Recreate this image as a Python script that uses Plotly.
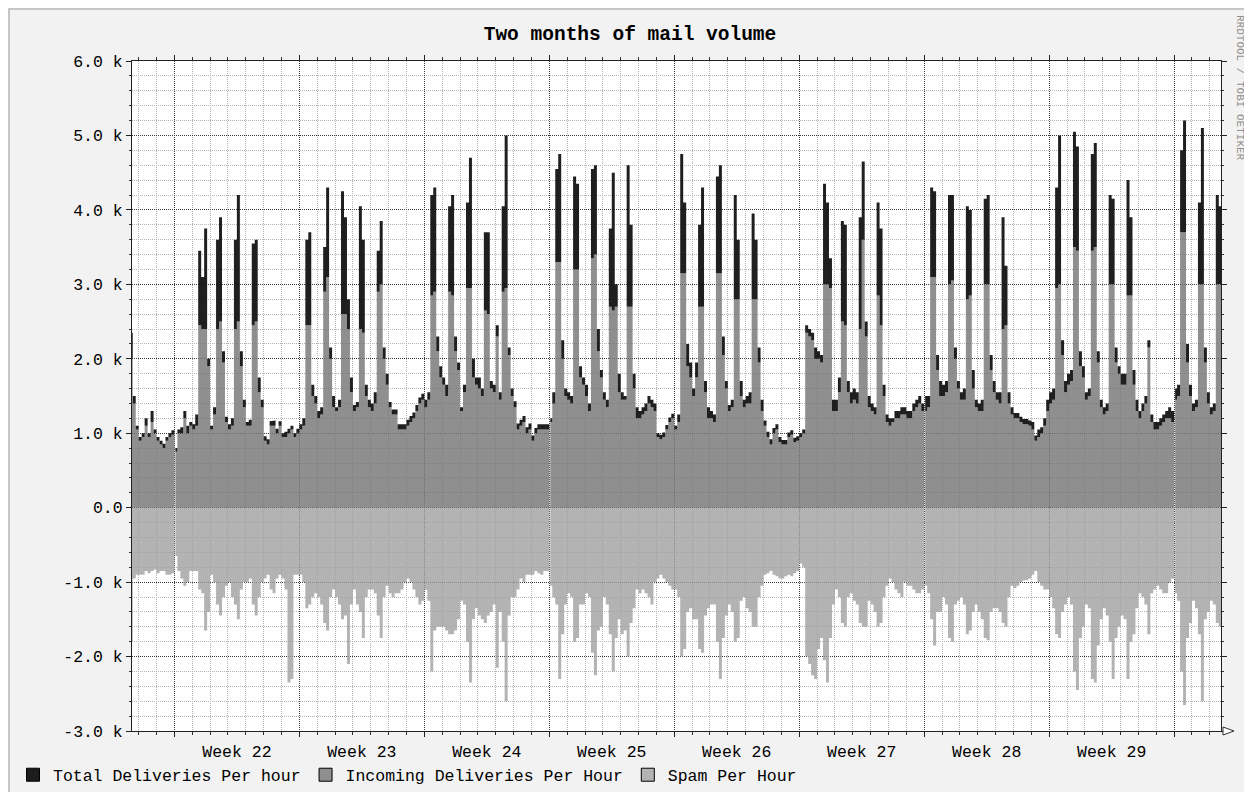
import pandas as pd
import plotly.graph_objects as go

# ---------------- chart text ----------------
title_text = "Two months of mail volume"
series_names = ["Total Deliveries Per hour", "Incoming Deliveries Per Hour", "Spam Per Hour"]
credit_text = "RRDTOOL / TOBI OETIKER"
y_tick_values = [6, 5, 4, 3, 2, 1, 0, -1, -2, -3]
y_tick_labels = ["6.0 k", "5.0 k", "4.0 k", "3.0 k", "2.0 k", "1.0 k", "0.0",
                 "-1.0 k", "-2.0 k", "-3.0 k"]
week_label_format = "Week %W"

# ---------------- time frame ----------------
sample_start = "2004-05-28 12:00"      # first 4-hour sample
sample_hours = 4
view_start = "2004-05-28 15:00"
view_end = "2004-07-28 15:00"
first_week_start = "2004-05-31"
gap_starts = ["2004-05-31 00:00", "2004-06-21 00:00", "2004-07-12 00:00", "2004-07-26 00:00"]
gap_minutes = 80

# ---------------- data (thousands per hour, 4-hour samples) ----------------
# one row per day: 00-04, 04-08, 08-12, 12-16, 16-20, 20-24
incoming_k = [
    2.0, 1.4, 1.05,                         # Fri May 28 (12h-24h)
    0.9, 0.95, 1.1, 0.95, 1.15, 1.0,        # Sat May 29
    0.9, 0.85, 0.8, 0.9, 0.95, 0.98,        # Sun May 30
    0.75, 1.0, 1.0, 1.2, 1.0, 1.1,          # Mon May 31
    1.05, 1.1, 2.45, 2.4, 2.4, 1.9,         # Tue Jun 1
    1.05, 1.25, 2.4, 2.5, 1.95, 1.15,       # Wed
    1.05, 1.1, 2.4, 2.5, 1.9, 1.35,         # Thu
    1.1, 1.1, 2.45, 2.5, 1.55, 1.35,        # Fri
    0.9, 0.85, 1.1, 1.1, 1.0, 1.1,          # Sat
    0.95, 0.95, 1.0, 1.05, 0.95, 1.0,       # Sun Jun 6
    1.05, 1.1, 2.45, 2.45, 1.5, 1.4,        # Mon Jun 7
    1.2, 1.25, 2.9, 3.1, 2.0, 1.35,         # Tue
    1.3, 1.35, 2.6, 2.6, 2.4, 1.55,         # Wed
    1.3, 1.35, 2.4, 2.35, 1.5, 1.35,        # Thu
    1.3, 1.4, 2.9, 3.0, 2.0, 1.65,          # Fri
    1.35, 1.25, 1.25, 1.05, 1.05, 1.05,     # Sat
    1.1, 1.15, 1.2, 1.3, 1.4, 1.45,         # Sun Jun 13
    1.35, 1.45, 2.85, 2.9, 2.1, 1.75,       # Mon Jun 14
    1.65, 1.5, 2.9, 2.85, 2.1, 1.85,        # Tue
    1.3, 1.55, 2.95, 2.95, 1.75, 1.65,      # Wed
    1.6, 1.5, 2.65, 2.6, 1.6, 1.55,         # Thu
    2.3, 1.45, 2.9, 2.95, 2.05, 1.5,        # Fri
    1.35, 1.05, 1.1, 1.15, 1.0, 1.05,       # Sat
    0.9, 1.0, 1.05, 1.05, 1.05, 1.05,       # Sun Jun 20
    1.15, 1.4, 3.3, 3.3, 2.0, 1.5,          # Mon Jun 21
    1.45, 1.4, 3.2, 3.2, 1.75, 1.65,        # Tue
    1.5, 1.3, 3.35, 3.4, 2.1, 1.75,         # Wed
    1.45, 1.35, 2.7, 2.65, 2.7, 1.55,       # Thu
    1.45, 1.45, 2.7, 2.7, 1.6, 1.2,         # Fri
    1.2, 1.25, 1.3, 1.4, 1.35, 1.3,         # Sat
    0.95, 0.92, 0.95, 1.05, 1.15, 1.2,      # Sun Jun 27
    1.05, 1.15, 3.15, 3.15, 1.9, 1.75,      # Mon Jun 28
    1.5, 1.75, 2.7, 2.7, 1.55, 1.2,         # Tue
    1.2, 1.15, 3.15, 3.15, 2.05, 1.6,       # Wed
    1.3, 1.35, 2.8, 2.8, 1.5, 1.35,         # Thu
    1.4, 1.4, 2.8, 2.8, 1.95, 1.3,          # Fri
    1.1, 0.95, 0.85, 1.0, 1.05, 0.88,       # Sat
    0.85, 0.85, 0.95, 0.98, 0.88, 0.9,      # Sun Jul 4
    0.95, 1.0, 2.35, 2.3, 2.25, 2.0,        # Mon Jul 5
    2.0, 1.95, 3.0, 3.0, 2.95, 1.3,         # Tue
    1.3, 1.55, 2.5, 2.45, 1.55, 1.4,        # Wed
    1.45, 1.4, 2.4, 3.6, 2.3, 1.35,         # Thu
    1.3, 1.25, 2.85, 2.45, 1.5, 1.15,       # Fri
    1.1, 1.15, 1.2, 1.2, 1.25, 1.25,        # Sat
    1.2, 1.2, 1.3, 1.35, 1.4, 1.3,          # Sun Jul 11
    1.3, 1.35, 3.1, 3.1, 1.85, 1.5,         # Mon Jul 12
    1.5, 1.55, 3.0, 3.05, 2.0, 1.6,         # Tue
    1.45, 1.45, 2.8, 2.85, 1.6, 1.35,       # Wed
    1.3, 1.3, 3.0, 3.0, 1.85, 1.55,         # Thu
    1.45, 1.4, 2.4, 2.45, 1.4, 1.25,        # Fri
    1.2, 1.2, 1.15, 1.12, 1.12, 1.1,        # Sat
    1.05, 0.9, 0.95, 1.0, 1.1, 1.3,         # Sun Jul 18
    1.4, 1.45, 2.95, 3.0, 2.05, 1.55,       # Mon Jul 19
    1.65, 1.7, 3.5, 3.45, 1.9, 1.75,        # Tue
    1.45, 1.5, 3.45, 3.5, 1.95, 1.35,       # Wed
    1.25, 1.3, 3.0, 3.0, 1.95, 1.8,         # Thu
    1.65, 1.65, 2.85, 2.85, 1.65, 1.3,      # Fri
    1.2, 1.3, 1.4, 2.15, 1.15, 1.05,        # Sat
    1.05, 1.1, 1.15, 1.2, 1.2, 1.15,        # Sun Jul 25
    1.45, 1.5, 3.7, 3.7, 1.95, 1.5,         # Mon Jul 26
    1.3, 1.35, 3.0, 3.0, 1.95, 1.4,         # Tue
    1.25, 1.3, 3.0, 3.0,                    # Wed Jul 28 (0h-16h)
]

total_k = [
    2.35, 1.5, 1.1,
    0.95, 1.0, 1.2, 1.0, 1.3, 1.05,
    0.95, 0.9, 0.86, 0.95, 1.0, 1.04,
    0.8, 1.05, 1.08, 1.3, 1.1, 1.15,
    1.12, 1.25, 3.45, 3.1, 3.75, 2.0,
    1.1, 1.35, 3.6, 3.9, 2.1, 1.22,
    1.12, 1.2, 3.6, 4.2, 2.1, 1.45,
    1.15, 1.18, 3.55, 3.6, 1.75, 1.45,
    0.96, 0.92, 1.16, 1.17, 1.06, 1.16,
    1.0, 1.02, 1.06, 1.1, 1.0, 1.06,
    1.12, 1.2, 3.6, 3.7, 1.65, 1.5,
    1.3, 1.35, 3.5, 4.3, 2.15, 1.5,
    1.35, 1.45, 4.25, 3.9, 2.8, 1.75,
    1.38, 1.42, 4.05, 3.6, 1.65, 1.45,
    1.4, 1.55, 3.45, 3.85, 2.15, 1.8,
    1.42, 1.32, 1.32, 1.12, 1.12, 1.12,
    1.18, 1.23, 1.28, 1.38, 1.48, 1.53,
    1.45, 1.55, 4.2, 4.3, 2.3, 1.9,
    1.75, 1.65, 4.05, 4.2, 2.3, 1.95,
    1.35, 1.65, 4.1, 4.7, 2.0, 1.75,
    1.75, 1.6, 3.7, 3.7, 1.7, 1.65,
    2.45, 1.55, 4.05, 5.0, 2.15, 1.6,
    1.43, 1.13, 1.18, 1.23, 1.08, 1.13,
    0.97, 1.07, 1.12, 1.12, 1.12, 1.12,
    1.2, 1.55, 4.55, 4.75, 2.25, 1.6,
    1.55, 1.5, 4.45, 4.35, 1.9, 1.75,
    1.65, 1.4, 4.55, 4.6, 2.4, 1.85,
    1.55, 1.45, 3.75, 4.5, 3.0, 1.8,
    1.55, 1.5, 4.6, 3.8, 1.8, 1.35,
    1.3, 1.35, 1.4, 1.5, 1.45, 1.4,
    1.0, 0.98, 1.01, 1.11, 1.21, 1.26,
    1.1, 1.25, 4.75, 4.1, 2.2, 1.95,
    1.6, 1.95, 3.8, 4.3, 1.7, 1.35,
    1.3, 1.25, 4.45, 4.6, 2.3, 1.7,
    1.38, 1.45, 4.2, 3.6, 1.7, 1.45,
    1.5, 1.55, 3.95, 3.6, 2.15, 1.45,
    1.17, 1.02, 0.92, 1.07, 1.12, 0.95,
    0.91, 0.91, 1.01, 1.04, 0.94, 0.96,
    1.0, 1.05, 2.45, 2.4, 2.35, 2.15,
    2.1, 2.05, 4.35, 4.1, 3.35, 1.45,
    1.45, 1.75, 3.85, 3.8, 1.7, 1.55,
    1.6, 1.55, 3.9, 4.65, 2.5, 1.5,
    1.4, 1.35, 4.1, 3.75, 1.65, 1.25,
    1.2, 1.2, 1.3, 1.3, 1.35, 1.35,
    1.3, 1.3, 1.4, 1.45, 1.5, 1.4,
    1.5, 1.5, 4.3, 4.25, 2.05, 1.7,
    1.65, 1.7, 4.2, 4.2, 2.15, 1.7,
    1.55, 1.6, 4.05, 4.0, 1.85, 1.45,
    1.4, 1.45, 4.15, 4.2, 2.05, 1.7,
    1.55, 1.55, 3.9, 3.25, 1.55, 1.35,
    1.27, 1.27, 1.22, 1.19, 1.19, 1.17,
    1.15, 0.97, 1.05, 1.08, 1.2, 1.45,
    1.55, 1.6, 4.3, 5.0, 2.25, 1.7,
    1.8, 1.85, 5.05, 4.85, 2.1, 1.9,
    1.55, 1.6, 4.75, 4.9, 2.1, 1.45,
    1.35, 1.4, 4.2, 4.15, 2.15, 1.9,
    1.8, 1.8, 4.4, 3.9, 1.85, 1.45,
    1.3, 1.4, 1.5, 2.25, 1.25, 1.15,
    1.15, 1.2, 1.25, 1.3, 1.35, 1.3,
    1.6, 1.65, 4.8, 5.2, 2.2, 1.65,
    1.4, 1.45, 4.1, 5.1, 2.15, 1.55,
    1.35, 1.4, 4.2, 4.05,
]

spam_k = [
    1.8, 0.95, 0.9,
    0.9, 0.9, 0.85, 0.88, 0.85, 0.83,
    0.88, 0.85, 0.85, 0.9, 0.9, 0.88,
    0.65, 0.85, 0.95, 1.05, 1.0, 0.85,
    0.85, 0.85, 1.1, 1.15, 1.65, 1.4,
    0.9, 1.0, 1.3, 1.45, 1.2, 1.05,
    1.0, 1.2, 1.3, 1.5, 1.1, 1.0,
    1.0, 0.95, 1.3, 1.45, 1.2, 1.0,
    0.95, 0.9, 1.1, 1.15, 0.95, 0.9,
    0.95, 1.1, 2.35, 2.3, 0.9, 0.9,
    0.9, 1.0, 1.35, 1.3, 1.2, 1.15,
    1.2, 1.3, 1.55, 1.65, 1.2, 1.1,
    1.2, 1.3, 1.5, 1.45, 2.1, 1.3,
    1.1, 1.3, 1.4, 1.75, 1.2, 1.1,
    1.1, 1.15, 1.45, 1.75, 1.2, 1.05,
    1.15, 1.2, 1.15, 1.15, 1.1, 1.0,
    0.95, 1.0, 1.1, 1.2, 1.3, 1.25,
    1.1, 1.25, 2.2, 1.65, 1.6, 1.6,
    1.6, 1.65, 1.7, 1.7, 1.65, 1.5,
    1.25, 1.3, 1.8, 2.35, 1.5, 1.35,
    1.45, 1.5, 1.55, 1.45, 1.4, 1.3,
    2.15, 1.4, 1.8, 2.6, 1.45, 1.2,
    1.2, 1.1, 0.95, 1.0, 0.9, 0.9,
    0.9, 0.85, 0.88, 0.9, 0.85, 0.85,
    1.05, 1.2, 1.3, 2.3, 1.7, 1.3,
    1.15, 1.2, 1.8, 1.75, 1.3, 1.3,
    1.15, 1.2, 1.95, 2.25, 1.65, 1.6,
    1.2, 1.3, 1.7, 2.2, 1.75, 1.5,
    1.7, 1.65, 2.0, 1.55, 1.35, 1.1,
    1.15, 1.1, 1.15, 1.2, 1.3, 1.0,
    0.95, 0.9, 0.95, 1.0, 1.05, 1.1,
    1.1, 1.2, 2.0, 1.9, 1.4, 1.35,
    1.5, 1.5, 1.9, 1.95, 1.45, 1.35,
    1.3, 1.3, 1.8, 2.3, 1.75, 1.45,
    1.3, 1.4, 1.8, 1.75, 1.25, 1.2,
    1.35, 1.4, 1.6, 1.6, 1.2, 1.05,
    0.9, 0.88, 0.85, 0.9, 0.92, 0.95,
    0.95, 0.92, 0.9, 0.92, 0.88, 0.85,
    0.75, 0.8, 2.0, 2.1, 2.25, 2.3,
    1.9, 1.75, 2.05, 2.35, 1.75, 1.3,
    1.1, 1.2, 1.55, 1.6, 1.2, 1.15,
    1.25, 1.3, 1.55, 1.6, 1.6, 1.25,
    1.3, 1.4, 1.6, 1.55, 1.2, 1.05,
    0.95, 1.0, 1.1, 1.15, 1.2, 1.0,
    1.05, 1.05, 1.1, 1.15, 1.15, 1.1,
    1.05, 1.15, 1.5, 1.85, 1.4, 1.4,
    1.2, 1.3, 1.75, 1.8, 1.3, 1.25,
    1.2, 1.3, 1.7, 1.65, 1.4, 1.3,
    1.4, 1.5, 1.75, 1.78, 1.4, 1.35,
    1.35, 1.4, 1.55, 1.6, 1.2, 1.05,
    1.08, 1.05, 1.0, 0.98, 0.97, 0.95,
    0.9, 0.85, 1.0, 1.05, 1.1, 1.1,
    1.2, 1.35, 1.7, 1.75, 1.4, 1.3,
    1.2, 1.3, 2.2, 2.45, 1.75, 1.6,
    1.3, 1.35, 2.3, 2.35, 1.85, 1.5,
    1.35, 1.45, 1.8, 2.3, 1.75, 1.6,
    1.45, 1.5, 2.3, 1.8, 1.7, 1.35,
    1.15, 1.2, 1.3, 1.7, 1.15, 1.1,
    1.05, 1.1, 1.15, 1.15, 1.0, 0.95,
    1.15, 1.25, 2.2, 2.65, 1.75, 1.55,
    1.25, 1.35, 1.7, 2.6, 1.5, 1.4,
    1.25, 1.3, 1.55, 1.6,
]

# ---------------- styles ----------------
FONT = "Liberation Mono, DejaVu Sans Mono, monospace"
col_total = "rgba(22,22,22,0.96)"
col_incoming = "rgba(118,118,118,0.82)"
col_spam = "rgba(158,158,158,0.78)"
legend_total = "#1c1c1c"
legend_incoming = "#8f8f8f"
legend_spam = "#b3b3b3"

# ---------------- step series from samples ----------------
times = pd.date_range(sample_start, periods=len(incoming_k), freq=f"{sample_hours}h")
step = pd.Timedelta(hours=sample_hours)
gap_len = pd.Timedelta(minutes=gap_minutes)
gap_set = set(pd.to_datetime(gap_starts))


def step_series(values, sign=1.0):
    xs, ys = [], []
    for t, v in zip(times, values):
        v = sign * v
        if t in gap_set:   # unknown data right after midnight -> nothing drawn
            xs += [t, t + gap_len, t + gap_len, t + step]
            ys += [0, 0, v, v]
        else:
            xs += [t, t + step]
            ys += [v, v]
    return xs, ys


x_inc, y_inc = step_series(incoming_k)
x_tot, y_tot = step_series(total_k)
x_spam, y_spam = step_series(spam_k, -1.0)

fig = go.Figure()
fig.add_trace(go.Scatter(x=x_spam, y=y_spam, mode="lines", line=dict(width=0),
                         fill="tozeroy", fillcolor=col_spam, showlegend=False, hoverinfo="skip"))
fig.add_trace(go.Scatter(x=x_inc, y=y_inc, mode="lines", line=dict(width=0),
                         fill="tozeroy", fillcolor=col_incoming, showlegend=False, hoverinfo="skip"))
fig.add_trace(go.Scatter(x=x_tot, y=y_tot, mode="lines", line=dict(width=0),
                         fill="tonexty", fillcolor=col_total, showlegend=False, hoverinfo="skip"))

# legend entries (square swatches as in rrdtool)
for name, col in zip(series_names, [legend_total, legend_incoming, legend_spam]):
    fig.add_trace(go.Scatter(x=[None], y=[None], mode="markers", name=name,
                             marker=dict(symbol="square", size=13, color=col,
                                         line=dict(color="#000000", width=1))))

# Layout in page pixels; the page body adds an 8 px offset around the figure.
OFF = 8
PAGE_W, PAGE_H = 1252, 792
W, H = PAGE_W - OFF, PAGE_H - OFF
L, R, T, B = 132, 1221, 61, 731     # plot area in page pixels


def px(x):
    return (x - L) / (R - L)


def py(y):
    return (B - y) / (B - T)


shapes = [
    # image frame
    dict(type="line", xref="paper", yref="paper", x0=px(7), x1=px(1250), y0=py(9), y1=py(9),
         line=dict(color="#c6c6c6", width=2)),
    dict(type="line", xref="paper", yref="paper", x0=px(9), x1=px(9), y0=py(8), y1=py(PAGE_H + 5),
         line=dict(color="#c6c6c6", width=2)),
    dict(type="rect", xref="paper", yref="paper", x0=px(1251), x1=px(PAGE_W + 5),
         y0=py(PAGE_H + 5), y1=py(0), fillcolor="white", line=dict(width=0)),
    dict(type="line", xref="paper", yref="paper", x0=px(1249.5), x1=px(1249.5), y0=py(8),
         y1=py(PAGE_H + 5), line=dict(color="#a9a9a9", width=2)),
    # x-axis arrow head
    dict(type="path", xref="paper", yref="paper",
         path=f"M {px(1223)},{py(727)} L {px(1234)},{py(731)} L {px(1223)},{py(735)} Z",
         line=dict(color="#333333", width=1), fillcolor="white"),
]

annotations = [
    dict(text=credit_text, xref="paper", yref="paper", x=px(1240), y=py(88),
         textangle=90, showarrow=False, font=dict(family=FONT, size=11, color="#8f8f8f"),
         xanchor="center", yanchor="middle"),
]

fig.update_layout(
    width=W, height=H,
    margin=dict(l=L - OFF, r=PAGE_W - R, t=T - OFF, b=PAGE_H - B, pad=0, autoexpand=False),
    paper_bgcolor="#f2f2f2",
    plot_bgcolor="white",
    title=dict(text=f"<b>{title_text}</b>", x=px(630), xref="paper", xanchor="center",
               y=1 - (33 - OFF) / H, yref="container", yanchor="middle",
               font=dict(family=FONT, size=19.5, color="#000000")),
    font=dict(family=FONT, size=16.5, color="#000000"),
    showlegend=True,
    legend=dict(orientation="h", traceorder="normal", x=px(13), y=py(775),
                xanchor="left", yanchor="middle",
                font=dict(family=FONT, size=16.5, color="#000000"), bgcolor="rgba(0,0,0,0)",
                itemclick=False, itemdoubleclick=False),
    shapes=shapes,
    annotations=annotations,
    hovermode=False,
)

fig.update_xaxes(
    type="date", range=[view_start, view_end], automargin=False,
    tick0=first_week_start, dtick=7 * 86400000,
    tickformat=week_label_format, ticklabelmode="period",
    showgrid=True, gridcolor="#3c3c3c", griddash="1px,1px", gridwidth=1,
    minor=dict(dtick=86400000, tick0=first_week_start, showgrid=True,
               gridcolor="#b4b4b4", griddash="1px,1px", ticks="outside", ticklen=3,
               tickcolor="#333333"),
    ticks="outside", ticklen=5, tickcolor="#222222",
    showline=True, linecolor="#222222", linewidth=1, mirror="ticks",
    zeroline=False, tickfont=dict(family=FONT, size=16.5, color="#000000"),
)

fig.update_yaxes(
    range=[-3, 6], tickmode="array", tickvals=y_tick_values, ticktext=y_tick_labels,
    automargin=False,
    showgrid=True, gridcolor="#3c3c3c", griddash="1px,1px", gridwidth=1,
    minor=dict(dtick=0.2, tick0=0, showgrid=True, gridcolor="#b4b4b4", griddash="1px,1px",
               ticks="outside", ticklen=2, tickcolor="#333333"),
    ticks="outside", ticklen=5, tickcolor="#222222",
    showline=True, linecolor="#222222", linewidth=1, mirror="ticks",
    zeroline=False, tickfont=dict(family=FONT, size=16.5, color="#000000"),
)

fig.write_html("out.html")
